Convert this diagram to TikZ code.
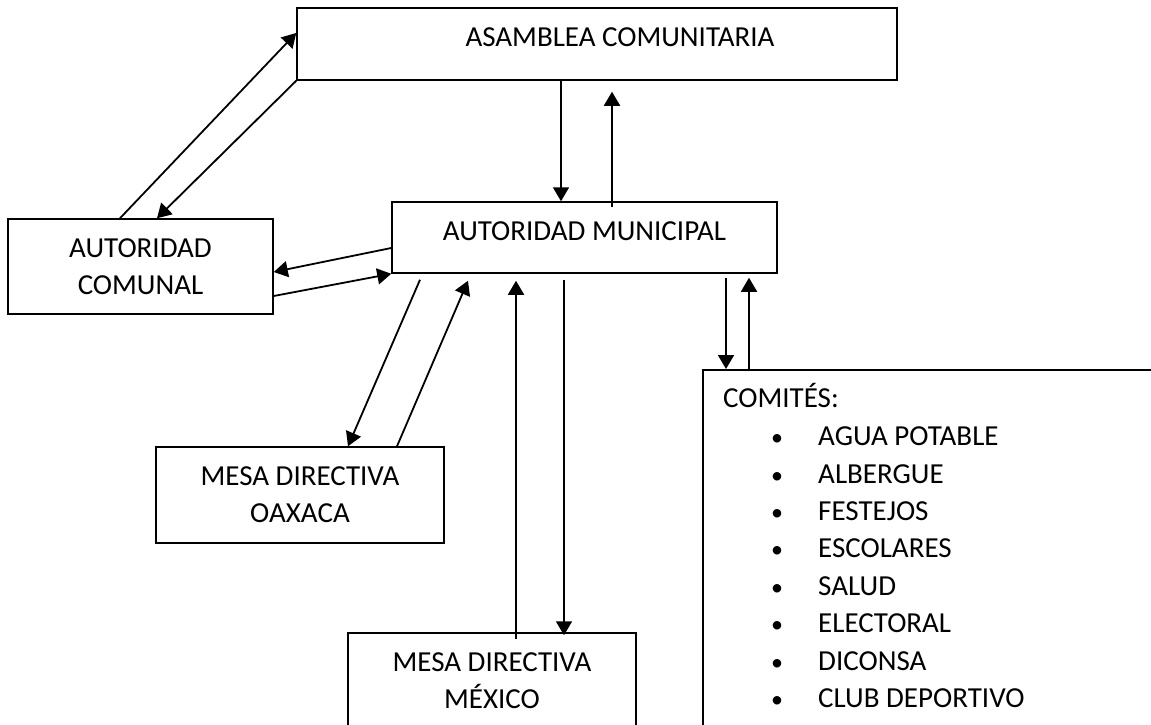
\documentclass[tikz,border=0pt]{standalone}
\usepackage{fontspec}
\setmainfont{Carlito}
\usepackage{tikz}
\usetikzlibrary{arrows.meta}

\newcommand{\vineta}{\llap{\makebox[0pt]{\fontsize{24}{24}\selectfont\textbullet}\hspace{41pt}}}

\tikzset{
  caja/.style={draw, line width=1.5pt, inner sep=0pt, align=center},
  cajauna/.style={caja, text height=18.7pt, text depth=13pt},
  flecha/.style={line width=1.8pt, -{Triangle[length=14pt,width=16pt]}},
  renglon/.style={anchor=base west, inner sep=0pt}
}

\begin{document}
\begin{tikzpicture}[x=1pt, y=-1pt]
\fontsize{29}{37}\selectfont
\useasboundingbox (0, 0) rectangle (1151, 725);
\clip (0, 0) rectangle (1151, 725);

% cajas
\node [cajauna, minimum width=600, minimum height=72] (asamblea) at (597, 44)
    {\hspace*{46pt}ASAMBLEA COMUNITARIA};
\node [cajauna, minimum width=385, minimum height=71] (municipal) at (584.5, 237.5)
    {AUTORIDAD MUNICIPAL};
\node [caja, minimum width=265, minimum height=95] (comunal) at (140.5, 266.5)
    {AUTORIDAD\\COMUNAL};
\node [caja, minimum width=288, minimum height=96] (oaxaca) at (300, 495)
    {MESA DIRECTIVA\\OAXACA};
\node [caja, minimum width=288, minimum height=96] (mexico) at (492, 681)
    {MESA DIRECTIVA\\MÉXICO};
\node [caja, minimum width=520, minimum height=400, anchor=north west] (comites) at (702, 369) {};

% lista de comites
\node [renglon] (titulo) at (723, 407) {COMITÉS:};
\node [renglon] (item1) at (818, 445) {\vineta AGUA POTABLE};
\node [renglon] (item2) at (818, 483) {\vineta ALBERGUE};
\node [renglon] (item3) at (818, 520) {\vineta FESTEJOS};
\node [renglon] (item4) at (818, 557) {\vineta ESCOLARES};
\node [renglon] (item5) at (818, 595) {\vineta SALUD};
\node [renglon] (item6) at (818, 632) {\vineta ELECTORAL};
\node [renglon] (item7) at (818, 670) {\vineta DICONSA};
\node [renglon] (item8) at (818, 707) {\vineta CLUB DEPORTIVO};

% asamblea - municipal
\draw [flecha] ([xshift=-36pt]asamblea.south) -- ([xshift=-23.5pt]municipal.north);
\draw [flecha] ([xshift=27.5pt, yshift=-6pt]municipal.north) -- ([xshift=15pt, yshift=-11pt]asamblea.south);

% asamblea - comunal
\draw [flecha] ([xshift=-20.5pt]comunal.north) -- ([yshift=11pt]asamblea.west);
\draw [flecha] (asamblea.south west) -- ([xshift=16.5pt]comunal.north);

% municipal - comunal
\draw [flecha] ([yshift=-10.5pt]municipal.west) -- ([yshift=-5.5pt]comunal.east);
\draw [flecha] ([yshift=-29.5pt]comunal.east) -- (municipal.south west);

% municipal - oaxaca
\draw [flecha] ([xshift=-164.5pt, yshift=-6pt]municipal.south) -- ([xshift=48pt]oaxaca.north);
\draw [flecha] ([xshift=97pt]oaxaca.north) -- ([xshift=-116.5pt, yshift=-7pt]municipal.south);

% municipal - mexico
\draw [flecha] ([xshift=24pt, yshift=-7pt]mexico.north) -- ([xshift=-68.5pt, yshift=-7pt]municipal.south);
\draw [flecha] ([xshift=-20.5pt, yshift=-6pt]municipal.south) -- ([xshift=72pt, yshift=-3pt]mexico.north);

% municipal - comites
\draw [flecha] ([xshift=141.5pt, yshift=-4pt]municipal.south) -- ([xshift=24pt]comites.north west);
\draw [flecha] ([xshift=47pt]comites.north west) -- ([xshift=164.5pt, yshift=-4pt]municipal.south);
\end{tikzpicture}
\end{document}
